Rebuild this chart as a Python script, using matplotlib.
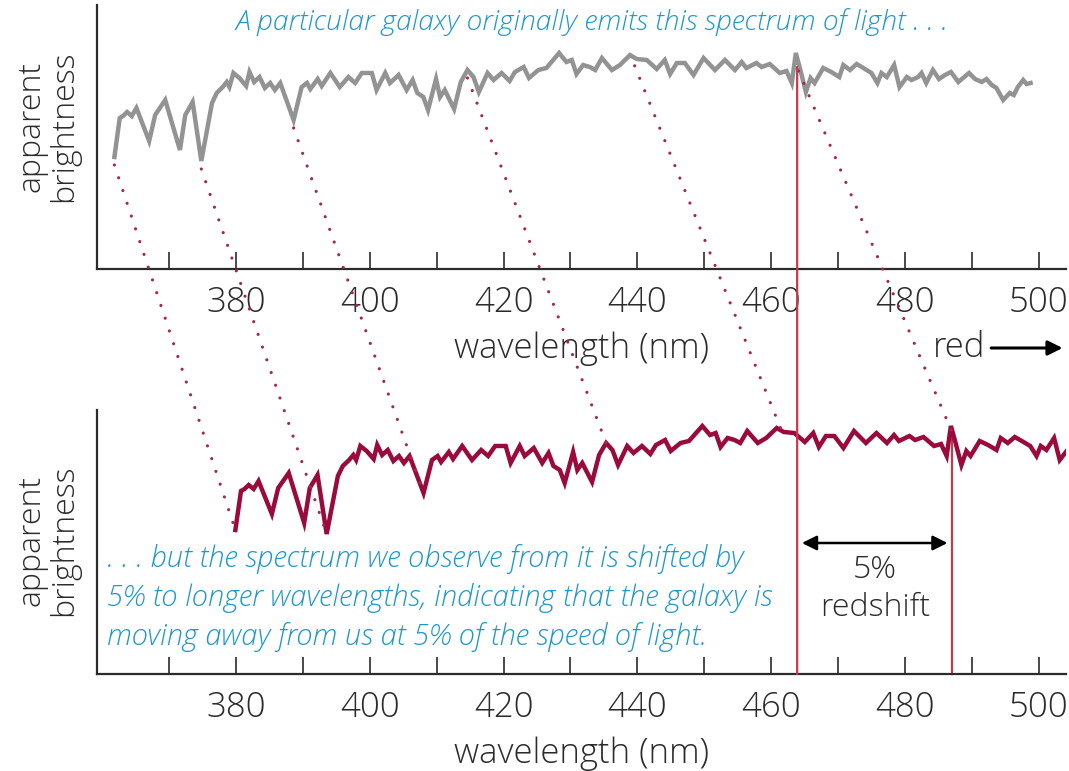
import matplotlib.pyplot as plt
import numpy as np
from matplotlib.patches import ConnectionPatch

# emitted spectrum (wavelength in nm, brightness in arbitrary units)
wavelength = [361.8, 362.6, 363.1, 363.7, 364.4, 365.1, 367.0, 367.9, 369.4, 371.6,
              372.4, 373.5, 374.8, 376.4, 377.1, 378.0, 378.6, 379.0, 379.6, 380.5,
              381.5, 382.0, 382.7, 383.5, 384.3, 385.1, 385.8, 386.6, 388.6, 389.8,
              390.6, 391.1, 392.2, 392.8, 394.1, 395.5, 396.8, 397.8, 398.8, 400.3,
              401.0, 402.3, 403.0, 404.3, 405.5, 406.4, 407.1, 408.0, 408.7, 409.9,
              410.5, 411.2, 412.6, 413.6, 414.6, 415.5, 416.3, 417.6, 418.5, 419.7,
              420.9, 421.7, 423.0, 423.8, 425.2, 426.4, 428.3, 429.4, 430.2, 430.9,
              431.9, 432.9, 433.7, 434.7, 436.2, 437.4, 438.9, 439.9, 441.4, 442.9,
              444.1, 444.9, 445.9, 447.1, 448.4, 449.9, 451.6, 453.1, 454.6, 455.6,
              456.3, 457.8, 458.6, 459.8, 461.3, 462.3, 463.1, 463.7, 464.3, 465.2,
              465.9, 466.5, 467.8, 469.0, 470.2, 470.8, 471.8, 472.8, 473.8, 475.0,
              475.9, 476.5, 477.3, 478.4, 479.2, 480.3, 481.0, 482.0, 482.5, 483.2,
              484.2, 485.1, 486.0, 486.9, 488.0, 488.7, 489.6, 490.5, 491.5, 492.2,
              493.0, 493.7, 494.7, 495.7, 496.3, 496.9, 497.7, 498.2, 498.8]
brightness = [112, 151, 153, 157, 153, 161, 128, 154, 169, 119,
              154, 167, 108, 166, 176, 182, 187, 182, 196, 191,
              183, 197, 187, 192, 181, 186, 179, 186, 149, 182,
              186, 180, 190, 183, 196, 182, 192, 186, 196, 196,
              179, 196, 186, 194, 179, 189, 176, 172, 159, 190,
              172, 179, 160, 187, 199, 192, 177, 196, 189, 196,
              188, 197, 202, 191, 199, 201, 216, 207, 209, 195,
              204, 202, 199, 211, 199, 204, 214, 210, 209, 200,
              209, 195, 206, 206, 194, 211, 199, 209, 199, 207,
              201, 206, 202, 205, 196, 198, 186, 216, 201, 177,
              191, 186, 201, 197, 192, 204, 199, 205, 201, 196,
              186, 196, 192, 204, 182, 192, 189, 192, 196, 186,
              199, 190, 194, 197, 187, 191, 196, 190, 187, 190,
              184, 181, 169, 176, 174, 182, 189, 185, 186]

redshift = 0.05
# spectral features joined by dotted lines (emitted wavelength)
features = [361.8, 374.8, 388.6, 414.6, 439.6, 464.1]
marked_line = 463.9

ticks_major = [380, 400, 420, 440, 460, 480, 500]
ticks_minor = [370, 390, 410, 430, 450, 470, 490]

wl = np.array(wavelength)
br = np.array(brightness)
wl_obs = wl * (1 + redshift)

W, H = 1069, 771
fig = plt.figure(figsize=(W / 100, H / 100), dpi=100)
plt.rcParams['font.family'] = ['Open Sans', 'DejaVu Sans']
FS = 23
FS_AX = 25
LW = 'light'


def rect(x0, y0, x1, y1):
    return [x0 / W, 1 - y1 / H, (x1 - x0) / W, (y1 - y0) / H]


ax_top = fig.add_axes(rect(97, 5, 1066, 269))
ax_bot = fig.add_axes(rect(97, 410, 1066, 674))

dark = '#2b2b2b'
for ax, ylim in ((ax_top, (0, 264)), (ax_bot, (-32, 232))):
    ax.set_xlim(359.2, 504.1)
    ax.set_ylim(*ylim)
    ax.spines['top'].set_visible(False)
    ax.spines['right'].set_visible(False)
    for s in ('left', 'bottom'):
        ax.spines[s].set_linewidth(1.6)
        ax.spines[s].set_color(dark)
    ax.set_yticks([])
    ax.set_xticks(ticks_major)
    ax.set_xticks(ticks_minor, minor=True)
    ax.tick_params(axis='x', which='both', direction='in', length=12, width=1.2,
                   color=dark, labelsize=FS_AX, labelcolor=dark, pad=12)
    for lab in ax.get_xticklabels():
        lab.set_fontweight(LW)
    ax.set_xlabel('wavelength (nm)', fontsize=FS_AX, color=dark, fontweight=LW,
                  labelpad=8)
    ax.patch.set_alpha(0)

ax_top.plot(wl, br, color='#939393', lw=3.2, solid_joinstyle='miter', zorder=3)
ax_bot.plot(wl_obs, br, color='#9b0a3c', lw=3.2, solid_joinstyle='miter', zorder=3)

# dotted lines linking the same feature in both spectra
dot_color = '#a3284e'
for f in features:
    b = np.interp(f, wl, br)
    con = ConnectionPatch(xyA=(f, b - 8), coordsA=ax_top.transData,
                          xyB=(f * (1 + redshift), b), coordsB=ax_bot.transData,
                          color=dot_color, lw=2.3, linestyle=(0, (0.01, 4.2)),
                          capstyle='round', zorder=1)
    fig.add_artist(con)

# red marker lines
red = '#c23b4a'
con = ConnectionPatch(xyA=(marked_line, 202), coordsA=ax_top.transData,
                      xyB=(marked_line, -32), coordsB=ax_bot.transData,
                      color=red, lw=1.6, zorder=2)
fig.add_artist(con)
shifted = marked_line * (1 + redshift)
ax_bot.plot([shifted, shifted], [215, -32], color=red, lw=1.6, zorder=2, clip_on=False)

ax_bot.annotate('', xy=(marked_line + 0.3, 99), xytext=(shifted - 0.3, 99),
                arrowprops=dict(arrowstyle='<|-|>', color='black', lw=1.8,
                                mutation_scale=22))
ax_bot.text((marked_line + shifted) / 2, 72, '5%', ha='center', va='center',
            fontsize=FS, color=dark, fontweight=LW)
ax_bot.text((marked_line + shifted) / 2, 34, 'redshift', ha='center', va='center',
            fontsize=FS, color=dark, fontweight=LW)

# "red" arrow
ax_top.annotate('', xy=(504.0, -79), xytext=(492.5, -79), annotation_clip=False,
                arrowprops=dict(arrowstyle='-|>', color='black', lw=2.2,
                                mutation_scale=22))
ax_top.text(492.0, -79, 'red', ha='right', va='center', fontsize=FS_AX, color=dark,
            fontweight=LW, clip_on=False)

for yc in (126, 540):
    fig.text(48 / W, 1 - yc / H, 'apparent\nbrightness', rotation=90, ha='center',
             va='center', fontsize=FS, color=dark, fontweight=LW,
             linespacing=1.0)

blue = '#1e98cb'
fig.text(592 / W, 1 - 22 / H,
         'A particular galaxy originally emits this spectrum of light . . .',
         ha='center', va='center', fontsize=20.3, color=blue, style='italic',
         fontweight=LW)
fig.text(107 / W, 1 - 598 / H,
         '. . . but the spectrum we observe from it is shifted by\n'
         '5% to longer wavelengths, indicating that the galaxy is\n'
         'moving away from us at 5% of the speed of light.',
         ha='left', va='center', fontsize=21, color=blue, style='italic',
         fontweight=LW, linespacing=1.38)

fig.savefig('out.png', dpi=100)
